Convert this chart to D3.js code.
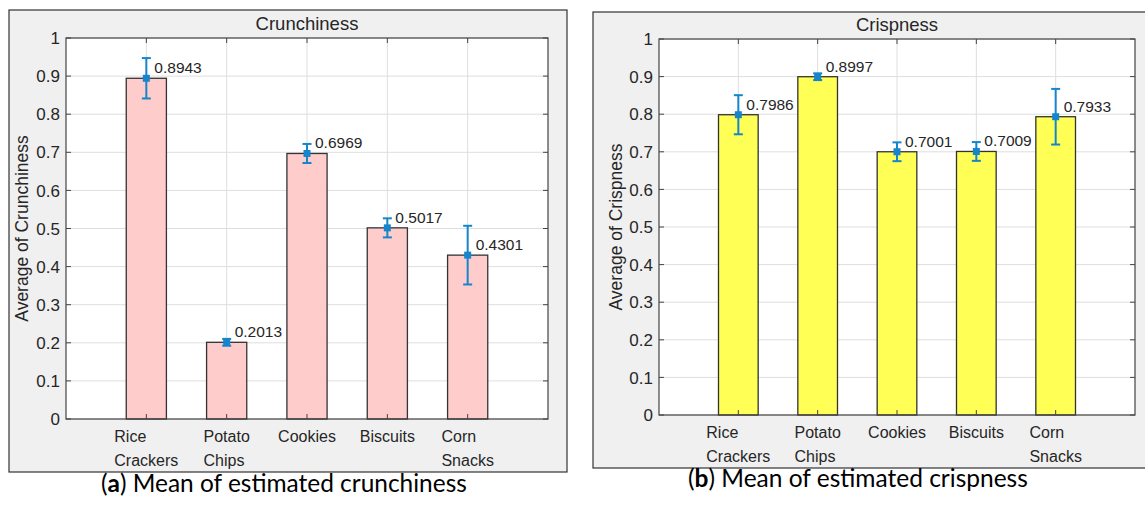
<!DOCTYPE html>
<html lang="en">
<head>
    <meta charset="UTF-8">
    <title>Crunchiness and Crispness</title>
    <script src="https://d3js.org/d3.v7.min.js"></script>
    <style>
        body { margin: 0; background: #fff; }
        text { font-family: "Liberation Sans", Arial, sans-serif; fill: #262626; }
    </style>
</head>
<body>
<script>
    // categories (multi-line labels) and values
    var categories = [["Rice", "Crackers"], ["Potato", "Chips"], ["Cookies"], ["Biscuits"], ["Corn", "Snacks"]];
    var crunchMean = [0.8943, 0.2013, 0.6969, 0.5017, 0.4301];
    var crunchErr = [0.053, 0.009, 0.025, 0.025, 0.077];
    var crispMean = [0.7986, 0.8997, 0.7001, 0.7009, 0.7933];
    var crispErr = [0.052, 0.009, 0.025, 0.025, 0.074];
    var yTicks = [0, 0.1, 0.2, 0.3, 0.4, 0.5, 0.6, 0.7, 0.8, 0.9, 1];

    var svg = d3.select("body").append("svg")
        .attr("width", 1145)
        .attr("height", 507);

    var errColor = "#1586cc";

    function drawPanel(cfg) {
        var g = svg.append("g");

        // gray figure background
        g.append("rect")
            .attr("x", cfg.box[0]).attr("y", cfg.box[1])
            .attr("width", cfg.box[2] - cfg.box[0]).attr("height", cfg.box[3] - cfg.box[1])
            .style("fill", "#f0f0f0").style("stroke", "#333").style("stroke-width", 1.2);

        var x = d3.scaleLinear().domain([0, categories.length + 1]).range([cfg.plot[0], cfg.plot[2]]);
        var y = d3.scaleLinear().domain([0, 1]).range([cfg.plot[3], cfg.plot[1]]);

        g.append("rect")
            .attr("x", cfg.plot[0]).attr("y", cfg.plot[1])
            .attr("width", cfg.plot[2] - cfg.plot[0]).attr("height", cfg.plot[3] - cfg.plot[1])
            .style("fill", "#fff");

        // grid
        g.selectAll(".hgrid").data(yTicks).enter().append("line")
            .attr("x1", cfg.plot[0]).attr("x2", cfg.plot[2])
            .attr("y1", function(d) { return y(d); }).attr("y2", function(d) { return y(d); })
            .style("stroke", "#dedede").style("stroke-width", 1);
        g.selectAll(".vgrid").data(categories).enter().append("line")
            .attr("x1", function(d, i) { return x(i + 1); }).attr("x2", function(d, i) { return x(i + 1); })
            .attr("y1", cfg.plot[1]).attr("y2", cfg.plot[3])
            .style("stroke", "#dedede").style("stroke-width", 1);

        // bars
        g.selectAll(".bar").data(cfg.mean).enter().append("rect")
            .attr("x", function(d, i) { return x(i + 1 - 0.25); })
            .attr("width", x(0.5) - x(0))
            .attr("y", function(d) { return y(d); })
            .attr("height", function(d) { return y(0) - y(d); })
            .style("fill", cfg.fill).style("stroke", "#333").style("stroke-width", 1.3);

        // axes box
        g.append("rect")
            .attr("x", cfg.plot[0]).attr("y", cfg.plot[1])
            .attr("width", cfg.plot[2] - cfg.plot[0]).attr("height", cfg.plot[3] - cfg.plot[1])
            .style("fill", "none").style("stroke", "#444").style("stroke-width", 1.2);

        // inward ticks
        var tl = 5;
        yTicks.forEach(function(t) {
            g.append("line").attr("x1", cfg.plot[0]).attr("x2", cfg.plot[0] + tl)
                .attr("y1", y(t)).attr("y2", y(t)).style("stroke", "#444");
            g.append("line").attr("x1", cfg.plot[2]).attr("x2", cfg.plot[2] - tl)
                .attr("y1", y(t)).attr("y2", y(t)).style("stroke", "#444");
        });
        categories.forEach(function(c, i) {
            g.append("line").attr("x1", x(i + 1)).attr("x2", x(i + 1))
                .attr("y1", cfg.plot[3]).attr("y2", cfg.plot[3] - tl).style("stroke", "#444");
            g.append("line").attr("x1", x(i + 1)).attr("x2", x(i + 1))
                .attr("y1", cfg.plot[1]).attr("y2", cfg.plot[1] + tl).style("stroke", "#444");
        });

        // y tick labels
        g.selectAll(".ylab").data(yTicks).enter().append("text")
            .attr("x", cfg.plot[0] - 6)
            .attr("y", function(d) { return y(d); })
            .attr("dy", "0.36em")
            .style("text-anchor", "end")
            .style("font-size", "17px")
            .text(function(d) { return String(+d.toFixed(1)); });

        // category labels: left-aligned lines, block centred on the tick
        categories.forEach(function(lines, i) {
            var t = g.append("text").style("font-size", "16px");
            var spans = lines.map(function(s, k) {
                return t.append("tspan").attr("y", cfg.plot[3] + 23 + k * 24).text(s);
            });
            var w = d3.max(spans, function(s) { return s.node().getComputedTextLength(); });
            spans.forEach(function(s) { s.attr("x", x(i + 1) - w / 2); });
        });

        // title
        g.append("text")
            .attr("x", (cfg.plot[0] + cfg.plot[2]) / 2)
            .attr("y", cfg.plot[1] - 8)
            .style("text-anchor", "middle")
            .style("font-size", "18.5px")
            .text(cfg.title);

        // y axis label
        g.append("text")
            .attr("transform", "translate(" + cfg.ylabX + "," + (cfg.plot[1] + cfg.plot[3]) / 2 + ") rotate(-90)")
            .attr("dy", "0.35em")
            .style("text-anchor", "middle")
            .style("font-size", "17.5px")
            .text(cfg.ylabel);

        // error bars
        cfg.mean.forEach(function(m, i) {
            var cx = x(i + 1), e = cfg.err[i];
            g.append("line").attr("x1", cx).attr("x2", cx)
                .attr("y1", y(m - e)).attr("y2", y(m + e))
                .style("stroke", errColor).style("stroke-width", 2);
            [m - e, m + e].forEach(function(v) {
                g.append("line").attr("x1", cx - 4.5).attr("x2", cx + 4.5)
                    .attr("y1", y(v)).attr("y2", y(v))
                    .style("stroke", errColor).style("stroke-width", 2);
            });
            g.append("rect").attr("x", cx - 3.5).attr("y", y(m) - 3.5)
                .attr("width", 7).attr("height", 7)
                .style("fill", errColor);
            g.append("text")
                .attr("x", cx + 8).attr("y", y(m) - 5)
                .style("font-size", "15.5px")
                .text(m.toFixed(4));
        });

        // caption below the figure
        var cap = svg.append("text")
            .attr("x", cfg.capX).attr("y", cfg.capY)
            .style("font-family", "Lato, 'Open Sans', sans-serif")
            .style("fill", "#000")
            .style("font-size", "20px");
        cap.append("tspan").text("(");
        cap.append("tspan").style("font-weight", "bold").text(cfg.capLetter);
        cap.append("tspan").text(") " + cfg.caption);
        var cw = cap.node().getComputedTextLength();
        cap.style("font-size", (20 * cfg.capW / cw) + "px");
    }

    drawPanel({
        box: [9, 10, 567, 472],
        plot: [66, 38, 548, 419],
        mean: crunchMean, err: crunchErr,
        fill: "#ffcccc",
        title: "Crunchiness",
        ylabel: "Average of Crunchiness",
        ylabX: 22,
        capX: 101, capY: 492, capW: 366,
        capLetter: "a", caption: "Mean of estimated crunchiness"
    });

    drawPanel({
        box: [593, 12, 1152, 468],
        plot: [659, 39, 1135, 415],
        mean: crispMean, err: crispErr,
        fill: "#ffff55",
        title: "Crispness",
        ylabel: "Average of Crispness",
        ylabX: 616,
        capX: 688, capY: 487, capW: 340,
        capLetter: "b", caption: "Mean of estimated crispness"
    });
</script>
</body>
</html>
